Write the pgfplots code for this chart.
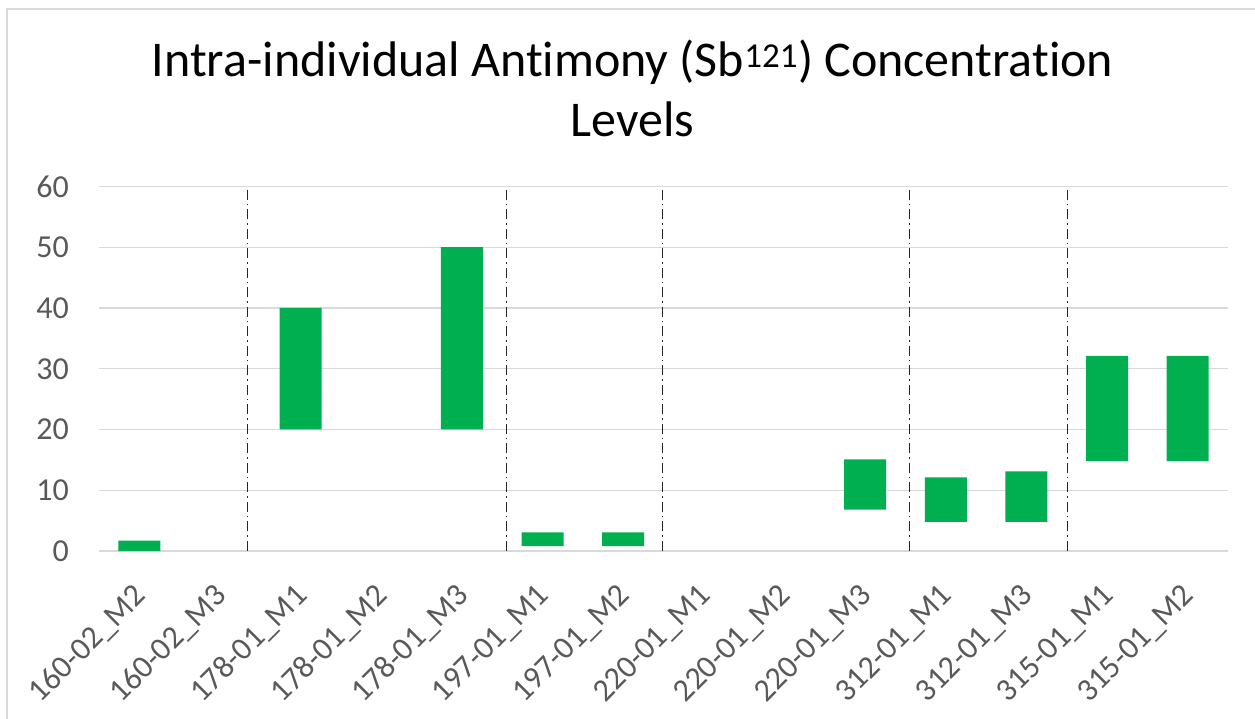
\documentclass[border=0pt]{standalone}
\usepackage{pgfplots}
\pgfplotsset{compat=1.18}
\usepackage{fontspec}
\setmainfont[Ligatures=NoCommon]{Carlito}
\definecolor{bargreen}{HTML}{00B050}
\definecolor{gridgray}{HTML}{D9D9D9}
\definecolor{labgray}{HTML}{595959}
\begin{document}
\begin{tikzpicture}
\useasboundingbox (0bp,0bp) rectangle (1255bp,719bp);
\fill[white] (0bp,0bp) rectangle (1255bp,719bp);
\draw[gridgray, line width=1.5bp] (7bp,0bp) -- (7bp,710bp) -- (1255bp,710bp);
\node[anchor=base, inner sep=0pt, font=\fontsize{50bp}{60bp}\selectfont] at (632.5bp,642.3bp) {Intra-individual Antimony (Sb\textsuperscript{121}) Concentration};
\node[anchor=base, inner sep=0pt, font=\fontsize{50bp}{60bp}\selectfont] at (632.5bp,582.3bp) {Levels};
\begin{axis}[
  at={(99bp,168bp)}, anchor=south west,
  scale only axis, width=1129bp, height=364.5bp,
  xmin=-0.5, xmax=13.5, ymin=0, ymax=60,
  ytick={0,10,...,60},
  xtick={0,...,13},
  xticklabels={160-02\_M2,160-02\_M3,178-01\_M1,178-01\_M2,178-01\_M3,197-01\_M1,197-01\_M2,220-01\_M1,220-01\_M2,220-01\_M3,312-01\_M1,312-01\_M3,315-01\_M1,315-01\_M2},
  ybar stacked, bar width=42bp,
  axis line style={draw=none},
  major tick length=0pt,
  ymajorgrids, grid style={gridgray, line width=1.2bp},
  tick label style={font=\fontsize{32bp}{38bp}\selectfont, text=labgray},
  yticklabel style={anchor=east, inner sep=0pt, xshift=-30bp},
  xticklabel style={anchor=east, inner sep=0pt, xshift=2bp, yshift=-40bp, rotate=45},
  /pgf/number format/assume math mode=true,
  clip=false,
]
% base (invisible)
\addplot[draw=none, fill=none] coordinates {
(0,0) (1,0) (2,20) (3,0) (4,20) (5,0.8) (6,0.8) (7,0) (8,0) (9,6.8) (10,4.8) (11,4.8) (12,14.8) (13,14.8)};
% range (visible)
\addplot[draw=none, fill=bargreen] coordinates {
(0,1.7) (1,0) (2,20) (3,0) (4,30) (5,2.25) (6,2.25) (7,0) (8,0) (9,8.3) (10,7.3) (11,8.3) (12,17.3) (13,17.3)};
\foreach \xv in {1.34,4.55,6.49,9.55,11.51}{
  \edef\tmp{\noexpand\draw[black!85, line width=1.3bp, dash pattern=on 10bp off 4bp on 1.5bp off 4bp] (axis cs:\xv,0) -- (axis cs:\xv,60);}
  \tmp
}
\end{axis}
\end{tikzpicture}
\end{document}
